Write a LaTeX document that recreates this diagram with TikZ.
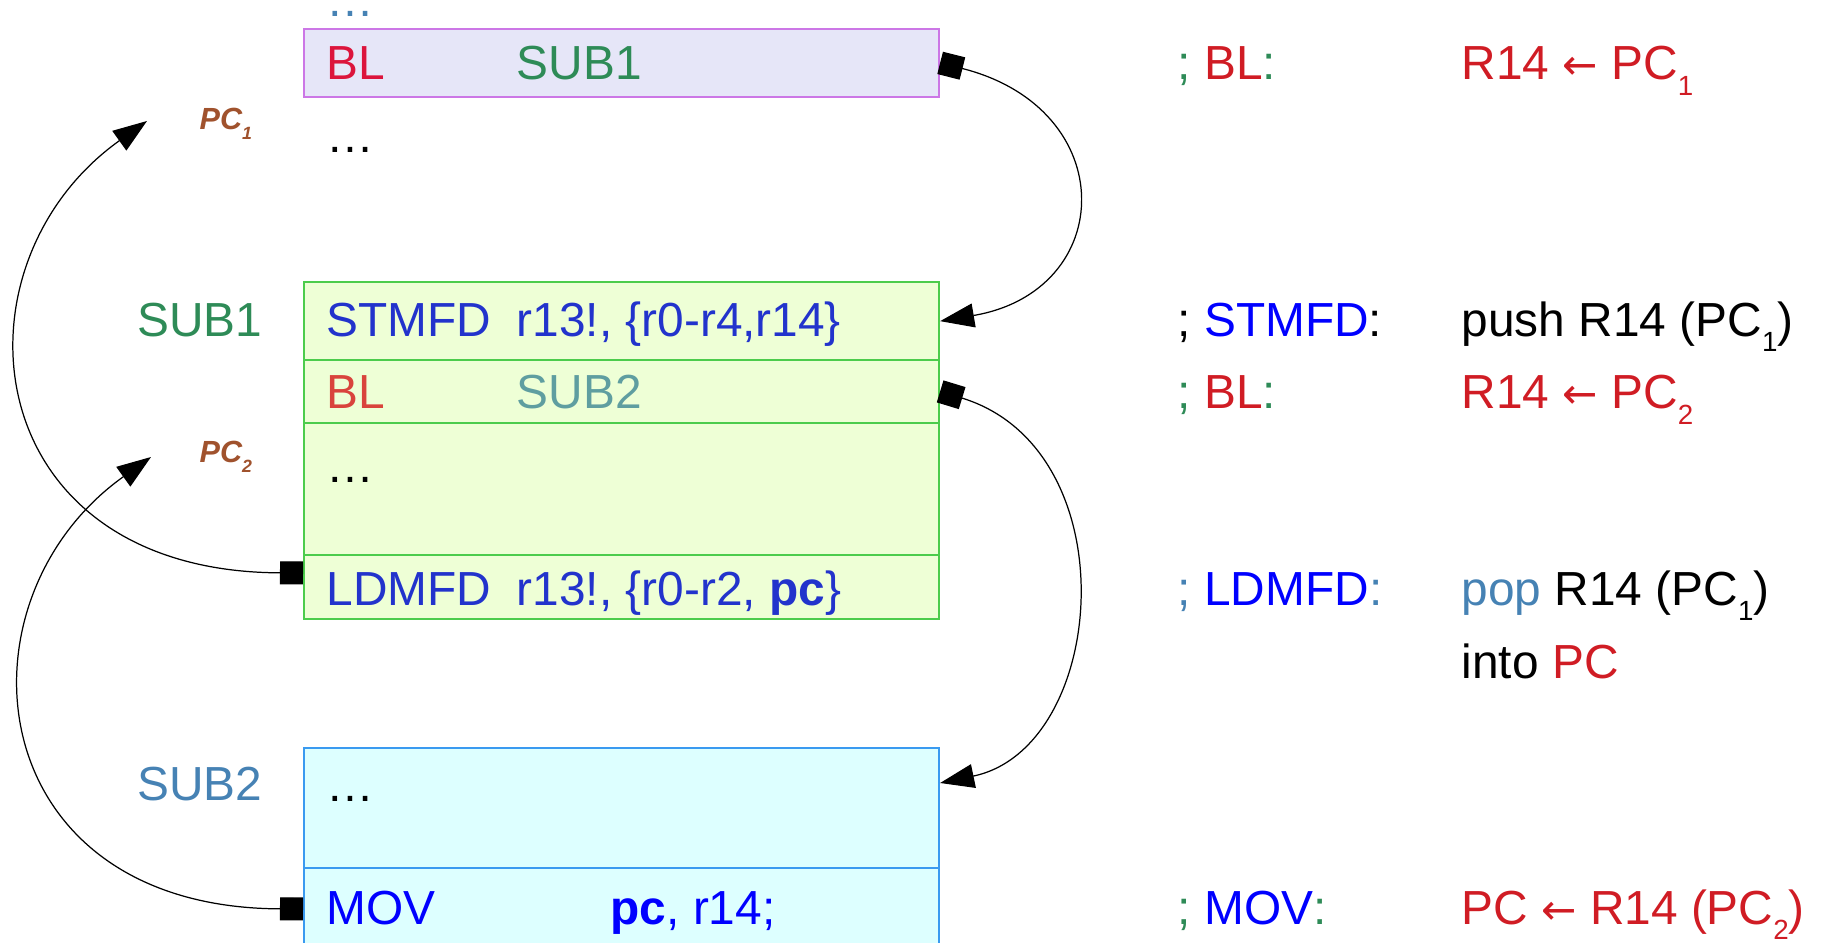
\documentclass[tikz,border=0pt]{standalone}
\usepackage{fontspec}
\setmainfont{Liberation Sans}
\newfontfamily\arrowfont{DejaVu Sans}
\usepackage{tikz}
\usetikzlibrary{arrows.meta,calc}

\definecolor{lavbg}{HTML}{E6E6F8}
\definecolor{lavln}{HTML}{CC77E6}
\definecolor{grnbg}{HTML}{EEFFD6}
\definecolor{grnln}{HTML}{4CCC4C}
\definecolor{cyabg}{HTML}{DDFFFF}
\definecolor{cyaln}{HTML}{3A9AF0}
\definecolor{crim}{HTML}{DC143C}
\definecolor{blrow}{HTML}{D9443C}
\definecolor{sgreen}{HTML}{2E8B57}
\definecolor{cadet}{HTML}{5F9EA0}
\definecolor{stblue}{HTML}{4682B4}
\definecolor{insblue}{HTML}{2233CC}
\definecolor{opblue}{HTML}{0000FF}
\definecolor{rred}{HTML}{D01C24}
\definecolor{pcbrown}{HTML}{A0522D}

% lowered small index, as in PC_1
\newcommand{\lowsub}[1]{\raisebox{-0.32em}{\scalebox{0.58}{#1}}}
% left arrow of the register transfers
\newcommand{\larr}{{\arrowfont\fontsize{12}{16}\selectfont ←}}

\tikzset{
  cell/.style  = {rectangle, draw, line width=0.5pt, minimum width=6.35cm,
                  anchor=north west, inner sep=0pt},
  cl/.style    = {cell, draw=lavln, fill=lavbg},
  cg/.style    = {cell, draw=grnln, fill=grnbg},
  cc/.style    = {cell, draw=cyaln, fill=cyabg},
  tx/.style    = {anchor=base west, inner sep=0pt,
                  font=\fontsize{13.6}{16}\selectfont},
  lbl/.style   = {tx, anchor=base east},
  pcl/.style   = {tx, text=pcbrown,
                  font=\fontsize{8.7}{10}\selectfont\bfseries\itshape},
  jmp/.style   = {line width=0.35pt,
                  {Square[length=2.3mm,width=2.3mm]}-{Triangle[length=3.4mm,width=2.4mm]}},
}

\begin{document}
\begin{tikzpicture}[x=0.01cm,y=-0.01cm]
  \useasboundingbox (0,0) rectangle (1839,943);

  % caller
  \node[tx, text=stblue] (dots0) at (326,17) {…};
  \node[cl, minimum height=0.68cm] (callsub1) at (303,28) {};
  \node[tx, text=crim] (bl1) at (326,80) {BL};
  \node[tx, text=sgreen] (tgt1) at (516,80) {SUB1};
  \node[pcl] (pc1) at (199,130) {PC\lowsub{1}};
  \node[tx] (dots1) at (326,153) {…};

  % SUB1
  \node[lbl, text=sgreen] (sub1) at (263,337) {SUB1};
  \node[cg, minimum height=0.775cm] (stm) at (303,281.5) {};
  \node[cg, minimum height=0.63cm] (blsub2) at (303,359) {};
  \node[cg, minimum height=1.32cm] (body1) at (303,422) {};
  \node[cg, minimum height=0.64cm] (ldm) at (303,554) {};
  \node[tx, text=insblue] (stmop) at (326,337) {STMFD};
  \node[tx, text=insblue] (stmarg) at (516,337) {r13!, \{r0-r4,r14\}};
  \node[tx, text=blrow] (bl2) at (326,409) {BL};
  \node[tx, text=cadet] (tgt2) at (516,409) {SUB2};
  \node[pcl] (pc2) at (199,463) {PC\lowsub{2}};
  \node[tx] (dots2) at (326,482) {…};
  \node[tx, text=insblue] (ldmop) at (326,605.5) {LDMFD};
  \node[tx, text=insblue] (ldmarg) at (516,605.5) {r13!, \{r0-r2, \textbf{pc}\}};

  % SUB2
  \node[lbl, text=stblue] (sub2) at (263,800) {SUB2};
  \node[cc, minimum height=1.2cm] (sub2body) at (303,747) {};
  \node[cc, minimum height=1.2cm] (mov) at (303,867) {};
  \node[tx] (dots3) at (326,801) {…};
  \node[tx, text=opblue] (movop) at (326,924) {MOV};
  \node[tx, text=opblue] (movarg) at (610,924) {\textbf{pc}, r14;};

  % comments column
  \node[tx] (n1a) at (1177,80)
    {\textcolor{sgreen}{;} \textcolor{rred}{BL}\textcolor{sgreen}{:}};
  \node[tx, text=rred] (n1b) at (1461,80) {R14 \larr{} PC\lowsub{1}};
  \node[tx] (n2a) at (1177,336.5) {; \textcolor{opblue}{STMFD}:};
  \node[tx] (n2b) at (1461,336.5) {push R14 (PC\lowsub{1})};
  \node[tx] (n3a) at (1177,409)
    {\textcolor{sgreen}{;} \textcolor{rred}{BL}\textcolor{sgreen}{:}};
  \node[tx, text=rred] (n3b) at (1461,409) {R14 \larr{} PC\lowsub{2}};
  \node[tx, text=stblue] (n4a) at (1177,605.5) {; \textcolor{opblue}{LDMFD}:};
  \node[tx] (n4b) at (1461,605.5) {\textcolor{stblue}{pop} R14 (PC\lowsub{1})};
  \node[tx] (n4c) at (1461,678) {into \textcolor{rred}{PC}};
  \node[tx] (n5a) at (1177,924)
    {\textcolor{sgreen}{;} \textcolor{opblue}{MOV}\textcolor{sgreen}{:}};
  \node[tx, text=rred] (n5b) at (1461,924) {PC \larr{} R14 (PC\lowsub{2})};

  % calls and returns
  \coordinate (ret1) at (147,121);
  \coordinate (ret2) at (151,457);
  \coordinate (sub2in) at ($(sub2body.north east)+(0,36)$);
  \draw[jmp] (callsub1.east) .. controls +(182,46) and +(177,-30) .. (stm.east);
  \draw[jmp] (blsub2.east) .. controls +(190,58) and +(168,-35) .. (sub2in);
  \draw[jmp] ($(ldm.west)+(0,-14)$) .. controls (-25,572) and (-55,265) .. (ret1);
  \draw[jmp] ($(mov.west)+(0,-19)$) .. controls (-21,908) and (-51,601) .. (ret2);
\end{tikzpicture}
\end{document}
